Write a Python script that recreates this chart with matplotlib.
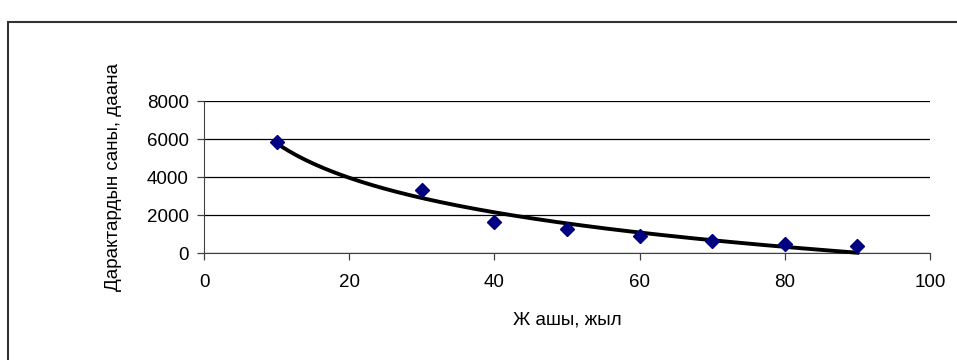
'''
Дарактардын саны жашына жараша
'''
import numpy as np
import matplotlib.pyplot as plt
from matplotlib.lines import Line2D

plt.rcParams['font.family'] = ['Liberation Sans', 'DejaVu Sans']

# маалымат
ages = [10, 30, 40, 50, 60, 70, 80, 90]
counts = [5850, 3330, 1650, 1260, 900, 630, 470, 370]
x_ticks = [0, 20, 40, 60, 80, 100]
y_ticks = [0, 2000, 4000, 6000, 8000]

fig = plt.figure(figsize=(9.57, 3.6), dpi=100)
ax = fig.add_axes([0.2132, 0.2972, 0.7586, 0.4222])

# логарифмдик тренд (Excel сыяктуу)
slope, intercept = np.polyfit(np.log(ages), counts, 1)
xs = np.linspace(ages[0], ages[-1], 200)
trend = np.clip(slope * np.log(xs) + intercept, 0, None)
ax.plot(xs, trend, color='black', lw=2.8, zorder=3, clip_on=False)

ax.plot(ages, counts, linestyle='none', marker='D', markersize=7.5,
        color='#000080', zorder=4, clip_on=False)

ax.set_xlim(0, 100)
ax.set_ylim(0, 8000)
ax.set_xticks(x_ticks)
ax.set_yticks(y_ticks)
ax.yaxis.grid(True, color='black', lw=0.9)
ax.set_axisbelow(True)
for s in ['top', 'right']:
    ax.spines[s].set_visible(False)
for s in ['left', 'bottom']:
    ax.spines[s].set_color('#404040')
ax.tick_params(axis='both', labelsize=13.5, direction='out', length=5,
               color='#404040', width=0.9)
ax.tick_params(axis='x', pad=10)
ax.tick_params(axis='y', pad=6)

ax.set_xlabel('Ж ашы, жыл', fontsize=13.5, labelpad=15)
ax.set_ylabel('Дарактардын саны, даана', fontsize=13.5, labelpad=18)

# сырткы рамка
W, H = 957, 360
fig.add_artist(Line2D([8 / W, 8 / W], [0, 1 - 22 / H], color='#333333',
                      lw=1.5, transform=fig.transFigure))
fig.add_artist(Line2D([8 / W, 1], [1 - 22 / H, 1 - 22 / H], color='#333333',
                      lw=1.5, transform=fig.transFigure))

fig.savefig('out.png', dpi=100)
